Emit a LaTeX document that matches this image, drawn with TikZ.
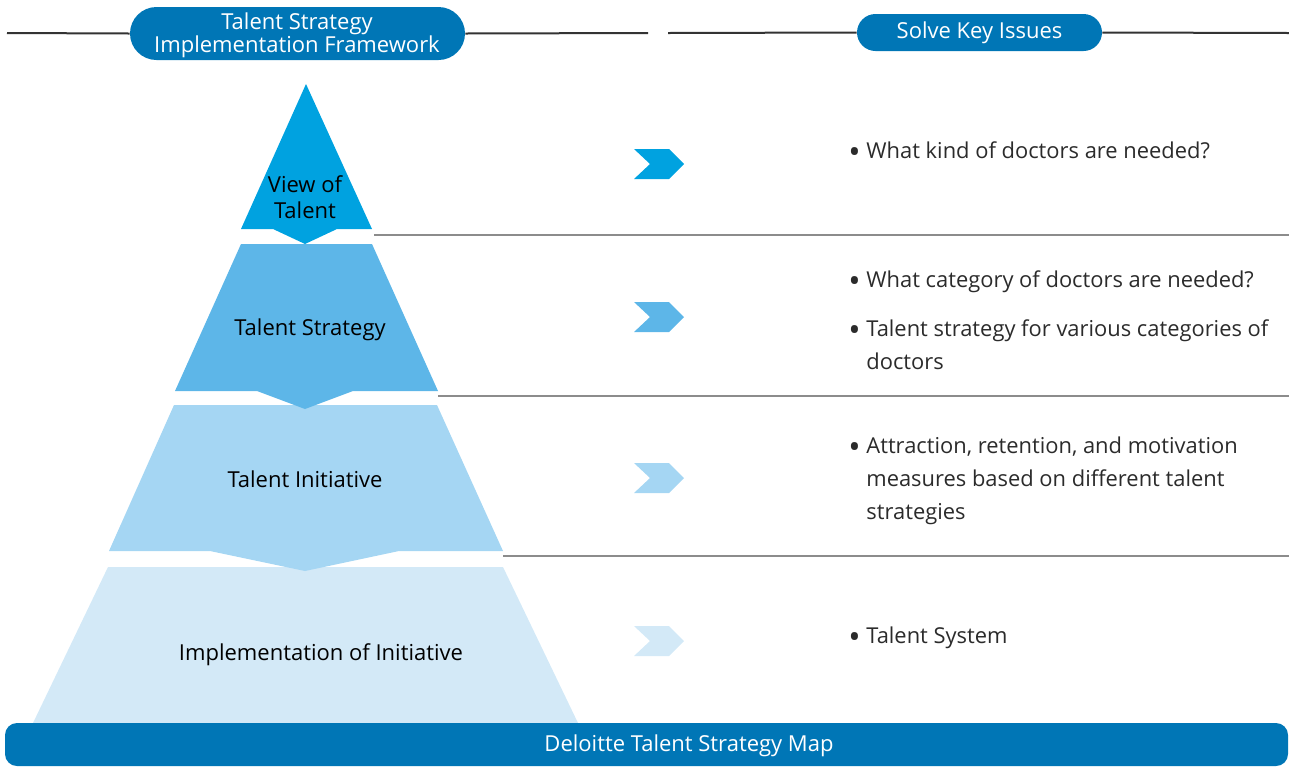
\documentclass[tikz,border=0pt]{standalone}
\usepackage{fontspec}
\setmainfont{Open Sans}
\usepackage{tikz}

\definecolor{dblue}{HTML}{0076B6}
\definecolor{tierA}{HTML}{00A2E0}
\definecolor{tierB}{HTML}{5DB6E8}
\definecolor{tierC}{HTML}{A5D6F3}
\definecolor{tierD}{HTML}{D3E9F7}
\definecolor{rulegray}{HTML}{8C8C8C}
\definecolor{headline}{HTML}{333333}
\definecolor{ink}{HTML}{2B2B2B}

% bullet point with its lines stacked under the first one
\newcommand{\issue}[1]{\makebox[9pt][l]{\raisebox{-2.6pt}{\scalebox{1.5}{\textbullet}}}%
  \begin{tabular}[t]{@{}l@{}}#1\end{tabular}}

\begin{document}
\begin{tikzpicture}[x=0.5pt,y=0.5pt]
\tikzstyle{every node}+=[inner sep=0pt, font=\fontsize{11}{16.5}\selectfont]
\tikzstyle{pill}=[fill=dblue, text=white, align=center]
\tikzstyle{tierlabel}=[text=black, align=center, anchor=base]
\tikzstyle{issue}=[text=ink, anchor=base west, font=\fontsize{10.95}{16.5}\selectfont]
\useasboundingbox (0,0) rectangle (1289,-767);

% header pills with their rules
\node [pill, minimum width=167.5pt, minimum height=26.5pt, rounded corners=13.25pt] (frame) at (297.5,-33.5) {};
\node [text=white, align=center, font=\fontsize{11}{11.5}\selectfont] (frametext) at (297,-35)
      {Talent Strategy\\Implementation Framework};
\node [pill, minimum width=122.5pt, minimum height=18.5pt, rounded corners=9.25pt] (solve) at (979.5,-32.5)
      {Solve Key Issues};
\coordinate (hl1) at (7,-33);
\coordinate (hl2) at (648,-33);
\coordinate (hr1) at (668,-33);
\coordinate (hr2) at (1289,-33);
\draw [headline, line width=1pt] (hl1) -- (frame.west);
\draw [headline, line width=1pt] (frame.east) -- (hl2);
\draw [headline, line width=1pt] (hr1) -- (solve.west);
\draw [headline, line width=1pt] (solve.east) -- (hr2);

% pyramid, bottom tier first so the notches lie on top
\fill [tierD] (108,-567) -- (503,-567) -- (578,-723) -- (33,-723) -- cycle;
\fill [tierC] (174,-405) -- (437,-405) -- (503,-551) -- (399,-551) -- (305,-571) -- (210,-551) -- (109,-551) -- cycle;
\fill [tierB] (241,-244) -- (372,-244) -- (438,-391) -- (353,-391) -- (305,-409) -- (257,-391) -- (175,-391) -- cycle;
\fill [tierA] (306,-84) -- (372,-229) -- (337,-229) -- (305,-244) -- (273,-229) -- (241,-229) -- cycle;

\node [tierlabel, font=\fontsize{11}{13}\selectfont] (view) at (305,-218) {View of\\Talent};
\node [tierlabel] (strat) at (310,-335) {Talent Strategy};
\node [tierlabel] (init) at (305,-487) {Talent Initiative};
\node [tierlabel] (impl) at (321,-660) {Implementation of Initiative};

% separators between the rows
\coordinate (s1) at (374,-235);
\coordinate (s1e) at (1289,-235);
\coordinate (s2) at (438,-396);
\coordinate (s2e) at (1289,-396);
\coordinate (s3) at (503,-556);
\coordinate (s3e) at (1289,-556);
\draw [rulegray, line width=0.75pt] (s1) -- (s1e);
\draw [rulegray, line width=0.75pt] (s2) -- (s2e);
\draw [rulegray, line width=0.75pt] (s3) -- (s3e);

% chevrons
\fill [tierA] (634,-149) -- (669,-149) -- (684,-164) -- (669,-179) -- (634,-179) -- (650,-164) -- cycle;
\fill [tierB, shift={(0,-153)}] (634,-149) -- (669,-149) -- (684,-164) -- (669,-179) -- (634,-179) -- (650,-164) -- cycle;
\fill [tierC, shift={(0,-314)}] (634,-149) -- (669,-149) -- (684,-164) -- (669,-179) -- (634,-179) -- (650,-164) -- cycle;
\fill [tierD, shift={(0,-477)}] (634,-149) -- (669,-149) -- (684,-164) -- (669,-179) -- (634,-179) -- (650,-164) -- cycle;

% key issues
\node [issue] (q1) at (848,-158) {\issue{What kind of doctors are needed?}};
\node [issue] (q2) at (848,-287) {\issue{What category of doctors are needed?}};
\node [issue] (q3) at (848,-336) {\issue{Talent strategy for various categories of\\doctors}};
\node [issue] (q4) at (848,-453) {\issue{Attraction, retention, and motivation\\measures based on different talent\\strategies}};
\node [issue] (q5) at (848,-643) {\issue{Talent System}};

% footer bar
\node [fill=dblue, minimum width=641.5pt, minimum height=21.5pt, rounded corners=6pt] (bar) at (646.5,-744.5) {};
\node [text=white] (map) at (689,-746) {Deloitte Talent Strategy Map};
\end{tikzpicture}
\end{document}
